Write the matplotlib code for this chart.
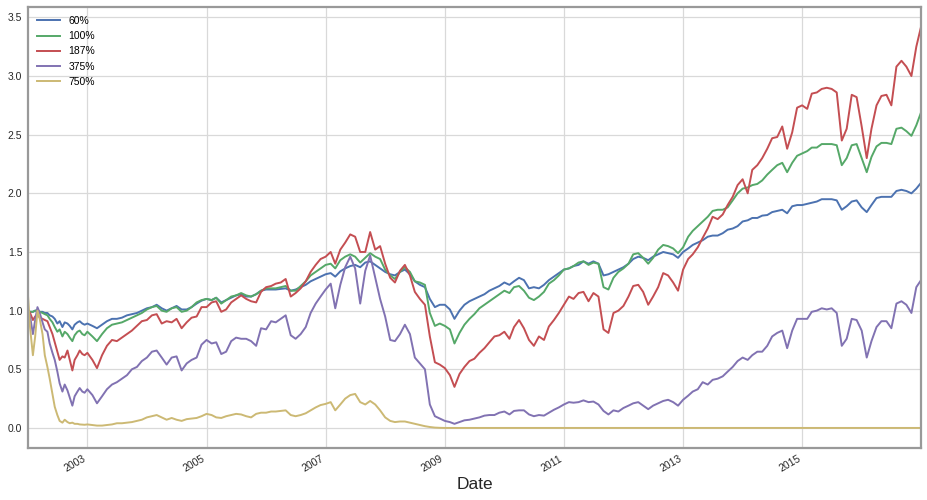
import matplotlib
matplotlib.use("Agg")
import matplotlib.pyplot as plt
import pandas as pd

# semi-monthly points in 2002 (fast moves), monthly afterwards, plus the last day
dates = (pd.date_range("2002-01-01", periods=24, freq="SMS")
         .append(pd.date_range("2003-01-01", "2016-12-01", freq="MS"))
         .append(pd.DatetimeIndex(["2016-12-30"])))

labels = ["60%", "100%", "187%", "375%", "750%"]
colors = ["#4C72B0", "#55A868", "#C44E52", "#8172B2", "#CCB974"]

lev_60 = [
    1.00, 0.99, 0.99, 1.00, 1.00, 0.99, 0.99, 0.98, 0.98, 0.96, 0.95, 0.93,
    0.89, 0.91, 0.86, 0.90, 0.89, 0.87, 0.84, 0.88, 0.90, 0.91, 0.89, 0.88,
    0.89, 0.87, 0.85, 0.88, 0.91, 0.93, 0.93, 0.94, 0.96, 0.97, 0.98, 1.00,  # 2003
    1.02, 1.03, 1.05, 1.02, 1.00, 1.02, 1.04, 1.01, 1.01, 1.03, 1.06, 1.085,
    1.10, 1.09, 1.11, 1.07, 1.09, 1.11, 1.13, 1.14, 1.12, 1.12, 1.14, 1.17,
    1.18, 1.18, 1.18, 1.185, 1.19, 1.17, 1.18, 1.20, 1.22, 1.25, 1.27, 1.29,
    1.31, 1.32, 1.29, 1.335, 1.36, 1.38, 1.39, 1.37, 1.41, 1.42, 1.39, 1.36,
    1.33, 1.31, 1.30, 1.33, 1.35, 1.31, 1.25, 1.22, 1.20, 1.10, 1.03, 1.05,
    1.05, 1.01, 0.93, 1.00, 1.05, 1.08, 1.10, 1.12, 1.14, 1.17, 1.19, 1.21,
    1.24, 1.22, 1.25, 1.28, 1.26, 1.19, 1.20, 1.19, 1.22, 1.26, 1.29, 1.32,
    1.35, 1.36, 1.38, 1.39, 1.42, 1.40, 1.42, 1.40, 1.30, 1.31, 1.33, 1.35,
    1.37, 1.40, 1.44, 1.46, 1.45, 1.43, 1.46, 1.48, 1.50, 1.49, 1.48, 1.45,
    1.50, 1.53, 1.56, 1.58, 1.60, 1.63, 1.64, 1.64, 1.66, 1.69, 1.70, 1.72,
    1.76, 1.77, 1.79, 1.79, 1.81, 1.815, 1.84, 1.85, 1.86, 1.83, 1.89, 1.90,
    1.90, 1.91, 1.92, 1.93, 1.95, 1.95, 1.95, 1.94, 1.86, 1.89, 1.93, 1.94,
    1.88, 1.84, 1.90, 1.96, 1.97, 1.97, 1.97, 2.02, 2.03, 2.02, 2.00, 2.04,
    2.09,
]

lev_100 = [
    1.00, 0.99, 0.99, 1.00, 1.00, 0.99, 0.98, 0.97, 0.96, 0.93, 0.90, 0.86,
    0.82, 0.84, 0.78, 0.82, 0.80, 0.77, 0.74, 0.79, 0.82, 0.83, 0.80, 0.79,
    0.82, 0.78, 0.74, 0.80, 0.85, 0.88, 0.89, 0.90, 0.92, 0.94, 0.96, 0.98,  # 2003
    1.01, 1.03, 1.04, 1.00, 0.99, 1.02, 1.03, 0.99, 1.00, 1.03, 1.07, 1.09,
    1.10, 1.09, 1.11, 1.06, 1.09, 1.12, 1.13, 1.15, 1.13, 1.12, 1.14, 1.17,
    1.19, 1.19, 1.19, 1.20, 1.21, 1.17, 1.17, 1.21, 1.25, 1.30, 1.33, 1.36,
    1.39, 1.40, 1.36, 1.43, 1.46, 1.48, 1.46, 1.41, 1.45, 1.49, 1.46, 1.44,
    1.35, 1.30, 1.27, 1.33, 1.37, 1.33, 1.25, 1.24, 1.22, 0.98, 0.87, 0.89,
    0.87, 0.84, 0.72, 0.81, 0.88, 0.93, 0.97, 1.02, 1.05, 1.08, 1.11, 1.14,
    1.17, 1.15, 1.20, 1.21, 1.17, 1.11, 1.09, 1.12, 1.16, 1.23, 1.26, 1.30,
    1.35, 1.36, 1.38, 1.41, 1.42, 1.39, 1.41, 1.40, 1.20, 1.18, 1.28, 1.33,
    1.36, 1.40, 1.48, 1.49, 1.45, 1.40, 1.45, 1.52, 1.56, 1.55, 1.53, 1.49,
    1.54, 1.63, 1.68, 1.72, 1.76, 1.80, 1.85, 1.86, 1.86, 1.88, 1.94, 2.00,
    2.04, 2.05, 2.07, 2.08, 2.11, 2.16, 2.20, 2.24, 2.26, 2.18, 2.26, 2.32,
    2.34, 2.36, 2.39, 2.39, 2.42, 2.42, 2.42, 2.41, 2.24, 2.30, 2.41, 2.42,
    2.30, 2.18, 2.31, 2.40, 2.43, 2.43, 2.42, 2.55, 2.56, 2.53, 2.49, 2.58,
    2.69,
]

lev_187 = [
    1.00, 0.98, 0.92, 0.95, 0.97, 0.94, 0.93, 0.92, 0.91, 0.86, 0.80, 0.73,
    0.65, 0.58, 0.61, 0.60, 0.66, 0.58, 0.49, 0.58, 0.62, 0.66, 0.63, 0.62,
    0.64, 0.58, 0.51, 0.62, 0.70, 0.75, 0.74, 0.77, 0.80, 0.83, 0.87, 0.91,  # 2003
    0.92, 0.96, 0.97, 0.89, 0.91, 0.90, 0.93, 0.85, 0.90, 0.94, 0.95, 1.03,
    1.03, 1.07, 1.08, 0.99, 1.01, 1.07, 1.10, 1.13, 1.10, 1.08, 1.07, 1.16,
    1.20, 1.21, 1.23, 1.24, 1.27, 1.12, 1.15, 1.19, 1.25, 1.33, 1.39, 1.44,
    1.46, 1.50, 1.40, 1.52, 1.58, 1.65, 1.63, 1.50, 1.50, 1.67, 1.52, 1.55,
    1.40, 1.28, 1.24, 1.34, 1.39, 1.30, 1.16, 1.10, 1.05, 0.78, 0.56, 0.54,
    0.51, 0.45, 0.35, 0.46, 0.52, 0.57, 0.59, 0.64, 0.68, 0.73, 0.78, 0.79,
    0.82, 0.76, 0.86, 0.92, 0.85, 0.75, 0.70, 0.78, 0.75, 0.865, 0.92, 0.98,
    1.05, 1.12, 1.10, 1.15, 1.16, 1.08, 1.15, 1.12, 0.84, 0.81, 0.98, 1.00,
    1.04, 1.12, 1.21, 1.22, 1.16, 1.05, 1.12, 1.20, 1.32, 1.30, 1.24, 1.17,
    1.35, 1.44, 1.48, 1.54, 1.62, 1.70, 1.80, 1.78, 1.82, 1.90, 1.97, 2.07,
    2.12, 2.00, 2.20, 2.24, 2.30, 2.38, 2.47, 2.48, 2.57, 2.38, 2.52, 2.73,
    2.75, 2.72, 2.85, 2.86, 2.89, 2.90, 2.89, 2.86, 2.45, 2.55, 2.84, 2.82,
    2.57, 2.30, 2.55, 2.75, 2.83, 2.84, 2.75, 3.08, 3.13, 3.08, 3.00, 3.25,
    3.42,
]

lev_375 = [
    1.00, 0.95, 0.80, 0.92, 1.03, 0.98, 0.90, 0.84, 0.82, 0.72, 0.64, 0.58,
    0.48, 0.38, 0.31, 0.37, 0.32, 0.26, 0.19, 0.27, 0.31, 0.34, 0.31, 0.30,
    0.33, 0.28, 0.21, 0.27, 0.33, 0.37, 0.39, 0.42, 0.45, 0.50, 0.52, 0.57,  # 2003
    0.60, 0.65, 0.66, 0.60, 0.54, 0.60, 0.61, 0.49, 0.55, 0.58, 0.60, 0.71,
    0.75, 0.72, 0.73, 0.63, 0.65, 0.74, 0.77, 0.76, 0.76, 0.74, 0.70, 0.85,
    0.84, 0.91, 0.90, 0.93, 0.96, 0.79, 0.76, 0.80, 0.86, 0.98, 1.06, 1.12,
    1.18, 1.23, 1.02, 1.22, 1.37, 1.46, 1.36, 1.06, 1.34, 1.47, 1.28, 1.10,
    0.95, 0.75, 0.74, 0.80, 0.88, 0.80, 0.60, 0.55, 0.50, 0.20, 0.10, 0.08,
    0.06, 0.05, 0.035, 0.05, 0.065, 0.07, 0.08, 0.09, 0.105, 0.11, 0.11, 0.13,
    0.14, 0.115, 0.145, 0.15, 0.15, 0.115, 0.10, 0.11, 0.105, 0.13, 0.155, 0.175,
    0.20, 0.22, 0.215, 0.22, 0.235, 0.22, 0.225, 0.20, 0.145, 0.115, 0.15, 0.14,
    0.17, 0.19, 0.21, 0.22, 0.19, 0.16, 0.19, 0.21, 0.23, 0.24, 0.22, 0.19,
    0.24, 0.275, 0.31, 0.33, 0.39, 0.37, 0.41, 0.42, 0.44, 0.48, 0.52, 0.57,
    0.60, 0.58, 0.62, 0.65, 0.65, 0.70, 0.78, 0.81, 0.83, 0.68, 0.83, 0.93,
    0.93, 0.93, 0.99, 1.00, 1.02, 1.01, 1.02, 0.98, 0.70, 0.76, 0.93, 0.92,
    0.83, 0.60, 0.74, 0.86, 0.91, 0.91, 0.85, 1.06, 1.08, 1.05, 0.98, 1.20,
    1.26,
]

lev_750 = [
    1.15, 0.85, 0.62, 0.78, 1.00, 0.93, 0.80, 0.62, 0.52, 0.42, 0.29, 0.18,
    0.11, 0.06, 0.045, 0.07, 0.05, 0.04, 0.045, 0.035, 0.035, 0.03, 0.028, 0.027,
    0.03, 0.025, 0.02, 0.02, 0.025, 0.03, 0.04, 0.04, 0.045, 0.05, 0.06, 0.07,  # 2003
    0.09, 0.10, 0.11, 0.09, 0.07, 0.085, 0.07, 0.06, 0.075, 0.08, 0.085, 0.10,
    0.12, 0.11, 0.09, 0.085, 0.10, 0.11, 0.12, 0.115, 0.10, 0.09, 0.12, 0.13,
    0.13, 0.14, 0.14, 0.145, 0.15, 0.11, 0.10, 0.11, 0.125, 0.15, 0.175, 0.195,
    0.205, 0.22, 0.15, 0.20, 0.25, 0.28, 0.29, 0.22, 0.20, 0.23, 0.20, 0.15,
    0.09, 0.06, 0.05, 0.055, 0.055, 0.045, 0.035, 0.025, 0.015, 0.008, 0.003, 0.001,
    0.0, 0.0, 0.0, 0.0, 0.0, 0.0, 0.0, 0.0, 0.0, 0.0, 0.0, 0.0,
    0.0, 0.0, 0.0, 0.0, 0.0, 0.0, 0.0, 0.0, 0.0, 0.0, 0.0, 0.0,
    0.0, 0.0, 0.0, 0.0, 0.0, 0.0, 0.0, 0.0, 0.0, 0.0, 0.0, 0.0,
    0.0, 0.0, 0.0, 0.0, 0.0, 0.0, 0.0, 0.0, 0.0, 0.0, 0.0, 0.0,
    0.0, 0.0, 0.0, 0.0, 0.0, 0.0, 0.0, 0.0, 0.0, 0.0, 0.0, 0.0,
    0.0, 0.0, 0.0, 0.0, 0.0, 0.0, 0.0, 0.0, 0.0, 0.0, 0.0, 0.0,
    0.0, 0.0, 0.0, 0.0, 0.0, 0.0, 0.0, 0.0, 0.0, 0.0, 0.0, 0.0,
    0.0, 0.0, 0.0, 0.0, 0.0, 0.0, 0.0, 0.0, 0.0, 0.0, 0.0, 0.0,
    0.0,
]

tick_years = [2003, 2005, 2007, 2009, 2011, 2013, 2015]
y_ticks = [0.0, 0.5, 1.0, 1.5, 2.0, 2.5, 3.0, 3.5]

plt.rcParams['font.family'] = ['Liberation Sans', 'DejaVu Sans']

fig = plt.figure(figsize=(9.28, 5.0), dpi=100)
ax = fig.add_axes([0.030, 0.104, 0.9625, 0.8826])
ax.set_facecolor('white')

series = [lev_60, lev_100, lev_187, lev_375, lev_750]
for vals, lab, col in zip(series, labels, colors):
    assert len(vals) == len(dates), (lab, len(vals))
    ax.plot(dates, vals, color=col, lw=1.4, label=lab)

ax.set_xlim(dates[0], dates[-1])
ax.set_xticks([pd.Timestamp(f"{y}-01-01") for y in tick_years])
ax.set_xticklabels([str(y) for y in tick_years], rotation=30, ha='right')
ax.set_yticks(y_ticks)
ax.set_yticklabels([f"{v:.1f}" for v in y_ticks])
ax.tick_params(length=0, labelsize=7.5, colors='#262626', pad=4)

ax.grid(True, color='#d9d9d9', lw=0.9)
ax.set_axisbelow(True)
for sp in ax.spines.values():
    sp.set_color('#999999')
    sp.set_linewidth(1.6)

ax.set_xlabel('Date', fontsize=12.5, color='#262626', labelpad=2)
ax.legend(loc='upper left', frameon=False, fontsize=7.5, handlelength=2.2)

fig.savefig('out.png', dpi=100)
